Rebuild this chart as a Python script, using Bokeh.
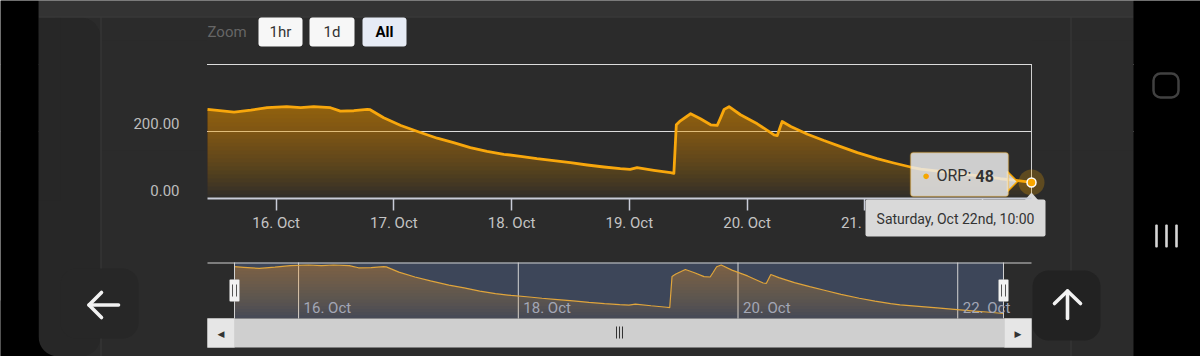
from datetime import datetime
import numpy as np
from bokeh.plotting import figure
from bokeh.models import (Range1d, DaysTicker, DatetimeTickFormatter, FixedTicker, LinearAxis,
                          NumeralTickFormatter, BoxAnnotation, Label)
from bokeh.embed import file_html
from bokeh.resources import INLINE
from bokeh.core.properties import value

# ---------------- data ----------------
times = [
    "2022-10-15 10:00", "2022-10-15 12:00", "2022-10-15 15:25", "2022-10-15 18:50", "2022-10-15 22:10",
    "2022-10-16 02:10", "2022-10-16 05:00", "2022-10-16 07:40", "2022-10-16 11:05", "2022-10-16 13:05",
    "2022-10-16 15:50", "2022-10-16 18:35", "2022-10-16 19:10", "2022-10-16 21:55",
    "2022-10-17 01:25", "2022-10-17 04:50", "2022-10-17 08:50", "2022-10-17 12:10", "2022-10-17 15:35",
    "2022-10-17 19:00", "2022-10-17 22:25",
    "2022-10-18 01:50", "2022-10-18 05:10", "2022-10-18 08:35", "2022-10-18 12:00", "2022-10-18 15:25",
    "2022-10-18 18:50", "2022-10-18 22:10",
    "2022-10-19 00:10", "2022-10-19 01:35", "2022-10-19 05:00", "2022-10-19 08:25", "2022-10-19 09:05",
    "2022-10-19 09:35", "2022-10-19 10:25", "2022-10-19 12:30", "2022-10-19 14:30", "2022-10-19 16:35",
    "2022-10-19 17:55", "2022-10-19 18:35", "2022-10-19 19:20", "2022-10-19 20:20", "2022-10-19 22:40",
    "2022-10-20 02:05", "2022-10-20 05:30", "2022-10-20 06:10", "2022-10-20 07:10", "2022-10-20 08:55",
    "2022-10-20 12:20", "2022-10-20 15:40", "2022-10-20 19:05", "2022-10-20 22:30",
    "2022-10-21 02:30", "2022-10-21 05:55", "2022-10-21 09:20", "2022-10-21 11:25", "2022-10-21 19:30",
    "2022-10-22 03:40", "2022-10-22 06:20", "2022-10-22 10:00",
]
orp = [266, 263, 258, 264, 271, 274, 271, 274, 271, 261, 262, 266, 265, 241,
       218, 200, 180, 167, 152, 141, 132,
       126, 119, 113, 107, 100, 94, 89,
       87, 92, 84, 77, 75, 220, 232, 253, 238, 220, 218, 240, 266, 274, 250,
       223, 190, 188, 230, 215, 192, 173, 155, 137,
       119, 106, 94, 88, 74, 59, 55, 48]
series_name = "ORP"
y_ticks = [0, 200]
y_grid = [200, 400]
nav_label_days = ["2022-10-16", "2022-10-18", "2022-10-20", "2022-10-22"]
nav_labels = ["16. Oct", "18. Oct", "20. Oct", "22. Oct"]
NAV_Y_MIN, NAV_Y_MAX = 24.7, 285.6          # navigator y-axis extremes
range_buttons = ["1hr", "1d", "All"]

# ---------------- geometry / helpers ----------------
t = [datetime.strptime(s, "%Y-%m-%d %H:%M") for s in times]
x = np.array(t, dtype="datetime64[ms]")
v = np.array(orp, dtype=float)
EPOCH = datetime(1970, 1, 1)
def ms(d):
    return (d - EPOCH).total_seconds() * 1000.0
t0, t1 = ms(t[0]), ms(t[-1])

W, H = 1200, 356
BG = "#2b2b2b"
ORANGE = "#f7a600"
FONT = "Roboto"

# main plot area in page pixels
PL, PR = 207, 1031
PY0, PY400 = 198, 64
spp = (t1 - t0) / (PR - PL)
upp = 400.0 / (PY0 - PY400)
x_rng = Range1d(t0 - PL * spp, t0 + (W - PL) * spp)
y_rng = Range1d(-(H - PY0) * upp, PY0 * upp)
lab_shift = 8 * upp

# navigator area in page pixels
NL, NR = 234, 1003
NT, NB = 262, 318
nspp = (t1 - t0) / (NR - NL)
nupp = (NAV_Y_MAX - NAV_Y_MIN) / (NB - NT)

p = figure(width=W, height=H, x_axis_type="datetime", x_axis_location="below", y_axis_location=None,
           x_range=x_rng, y_range=y_rng,
           min_border=0, min_border_left=0, min_border_right=0, min_border_top=0, min_border_bottom=0,
           background_fill_color=BG, border_fill_color=BG, outline_line_color=None,
           output_backend="svg", toolbar_location=None)
p.extra_x_ranges = {"px": Range1d(0, W),
                    "navx": Range1d(t0 - NL * nspp, t0 + (W - NL) * nspp)}
p.extra_y_ranges = {"px": Range1d(H, 0),
                    "ylab": Range1d(y_rng.start - lab_shift, y_rng.end - lab_shift),
                    "navy": Range1d(NAV_Y_MIN - (H - NB) * nupp, NAV_Y_MAX + NT * nupp)}

def box(l, r, tp, b, color, alpha=1.0, line=None, lw=1, radius=0, level="annotation"):
    p.add_layout(BoxAnnotation(left=l, right=r, top=tp, bottom=b, x_range_name="px", y_range_name="px",
                               fill_color=color, fill_alpha=alpha, line_color=line, line_width=lw,
                               border_radius=radius, level=level))

def label(xx, yy, text, size="15px", color="#333333", align="left", bold=False, font=FONT):
    p.add_layout(Label(x=xx, y=yy, x_range_name="px", y_range_name="px", text=text,
                       text_font=font, text_font_size=size, text_color=color, text_align=align,
                       text_baseline="middle", text_font_style="bold" if bold else "normal"))

def gradient_area(xs, vals, base, top, n, a0, a1, color, **kw):
    p.varea(x=xs, y1=np.full_like(vals, base), y2=vals, fill_color=color, fill_alpha=a0, **kw)
    a = 1 - ((1 - a1) / (1 - a0)) ** (1.0 / n)
    for k in range(1, n + 1):
        lvl = base + (top - base) * k / (n + 1)
        p.varea(x=xs, y1=np.minimum(vals, lvl), y2=vals, fill_color=color, fill_alpha=a, **kw)

# ---------------- main chart: grid & axes ----------------
p.xgrid.visible = False
p.ygrid.ticker = FixedTicker(ticks=y_grid)
p.ygrid.grid_line_color = "#dcdcdc"
p.ygrid.grid_line_width = 1

# page background pieces drawn under everything (underlay)
box(38, PL - 0.5, 40, 150, BG, level="underlay")          # hide grid left of plot
box(PR + 0.5, 1133, 40, 150, BG, level="underlay")        # hide grid right of plot
box(0, 60, 300, H, "#000000", level="underlay")
box(38, 100, 17, H, "#272727", radius=20, level="underlay")
box(38, 60, 17, 200, "#272727", level="underlay")
box(100, 101, 17, H, "#3a3a3a", level="underlay")
box(1070, 1071, 17, H, "#3a3a3a", level="underlay")
box(60, 138, 268, 338, "#272727", radius=16, level="underlay")
box(1032, 1100, 270, 340, "#222222", radius=16, level="underlay")

xa = p.xaxis[0]
xa.fixed_location = 0
xa.bounds = (t0, t1)
xa.ticker = DaysTicker(days=list(range(1, 32)))
xa.formatter = DatetimeTickFormatter(days="%d. %b")
xa.axis_line_color = "#c8ccd8"
xa.axis_line_width = 2
xa.major_tick_line_color = "#c8ccd8"
xa.major_tick_line_width = 1.5
xa.major_tick_out = 12
xa.major_tick_in = 0
xa.minor_tick_line_color = None
xa.major_label_standoff = 3
xa.major_label_text_color = "#c4c4c4"
xa.major_label_text_font = FONT
xa.major_label_text_font_size = "15px"

ya = LinearAxis(y_range_name="ylab", fixed_location=t0, ticker=FixedTicker(ticks=y_ticks),
                formatter=NumeralTickFormatter(format="0.00"))
ya.axis_line_color = None
ya.major_tick_line_color = None
ya.minor_tick_line_color = None
ya.major_label_standoff = 22
ya.major_label_text_color = "#bdbdbd"
ya.major_label_text_font = FONT
ya.major_label_text_font_size = "15px"
p.add_layout(ya, "left")

# ---------------- main chart: series ----------------
gradient_area(x, v, 0.0, float(v.max()), 22, 0.03, 0.5, ORANGE)
p.segment(x0=[x[-1]], y0=[0], x1=[x[-1]], y1=[y_grid[-1]], line_color="#cfcfcf", line_width=1)
p.line(x, v, line_color="#f8a70c", line_width=2.8, line_join="round")
p.scatter(x=[x[-1]], y=[v[-1]], size=26, fill_color=ORANGE, fill_alpha=0.25, line_color=None)
p.scatter(x=[x[-1]], y=[v[-1]], size=9, fill_color=ORANGE, line_color="#ffffff", line_width=1.5)

# ---------------- navigator ----------------
nav_days = np.array([datetime.strptime(s, "%Y-%m-%d") for s in nav_label_days], dtype="datetime64[ms]")
p.add_layout(BoxAnnotation(left=t0, right=t1, bottom=NAV_Y_MIN, top=NAV_Y_MAX,
                           x_range_name="navx", y_range_name="navy",
                           fill_color="#6685c2", fill_alpha=0.3, line_color=None, level="underlay"))
p.segment(x0=nav_days, y0=NAV_Y_MIN, x1=nav_days, y1=NAV_Y_MAX, x_range_name="navx", y_range_name="navy",
          line_color="#d4d4d4", line_width=1)
gradient_area(x, v, NAV_Y_MIN, float(v.max()), 16, 0.06, 0.35, "#f0a030",
              x_range_name="navx", y_range_name="navy")
p.line(x, v, line_color="#e0a53c", line_width=1.2, x_range_name="navx", y_range_name="navy")
p.segment(x0=[x[0], x[-1]], y0=NAV_Y_MIN, x1=[x[0], x[-1]], y1=NAV_Y_MAX,
          x_range_name="navx", y_range_name="navy", line_color="#d0d0d0", line_width=1)
p.text(x=nav_days, y=[307] * len(nav_days), text=nav_labels, x_offset=5,
       x_range_name="navx", y_range_name="px", text_font=value(FONT), text_font_size=value("15px"),
       text_color="#a3a7b6", text_baseline="middle")

# tooltip pointers (small triangles)
p.patch(x=[1007, 1017, 1007], y=[171, 181, 191], x_range_name="px", y_range_name="px",
        fill_color="#ebebeb", fill_alpha=0.85, line_color=ORANGE, line_width=1.5)
p.patch(x=[1024, 1031, 1038], y=[200, 192, 200], x_range_name="px", y_range_name="px",
        fill_color="#d9d9d9", line_color=None)

# floating button arrows (white icons)
p.multi_line(xs=[[88.5, 118], [101, 88.5, 101], [1067, 1067], [1054, 1067, 1080]],
             ys=[[304.5, 304.5], [292, 304.5, 317], [290.5, 318], [303, 290.5, 303]],
             x_range_name="px", y_range_name="px", line_color="#f2f2f2", line_width=3.6,
             line_cap="round", line_join="round")

# ---------------- phone / page chrome ----------------
box(38, 1133, 0, 16, "#333333")
box(38, 1133, 16, 17, "#3e3e3e")
box(0, 38, 0, H, "#000000")
box(1133, W, 0, H, "#000000")
box(1153, 1178, 73, 97, None, alpha=0, line="#d6d6d6", lw=2.5, radius=7)
for cx in (1156, 1166, 1176):
    box(cx - 1.3, cx + 1.3, 224, 247, "#d6d6d6", radius=1)

# range selector
label(207, 31, "Zoom", size="15px", color="#666666")
for (l, r), txt in zip([(258, 302), (309, 354), (362, 406)], range_buttons):
    sel = txt == "All"
    box(l, r, 17, 46, "#e6ebf5" if sel else "#f7f7f7", radius=3)
    label((l + r) / 2, 31.5, txt, size="15px", color="#000000" if sel else "#333333",
          align="center", bold=sel)

# navigator outline, handles, scrollbar
box(PL, PR, 262, 263, "#d0d0d0")
for hx in (NL, NR):
    box(hx - 5, hx + 5, 279, 301, "#f2f2f2", line="#999999", lw=1, radius=1)
    box(hx - 2.5, hx - 1.5, 284, 296, "#555555")
    box(hx + 1.5, hx + 2.5, 284, 296, "#555555")
box(PL, PR, 318, 347, "#cfcfcf")
box(PL, NL, 318, 347, "#e6e6e6", line="#c4c4c4")
box(NR + 1, PR, 318, 347, "#e6e6e6", line="#c4c4c4")
label(220.5, 333, "◀", size="9px", color="#333333", align="center", font="DejaVu Sans")
label(1017.5, 333, "▶", size="9px", color="#333333", align="center", font="DejaVu Sans")
for rx in (616, 619, 622):
    box(rx - 0.5, rx + 0.5, 326, 338, "#333333")

# ---------------- tooltips ----------------
box(910, 1008, 152, 196, "#ebebeb", alpha=0.85, line=ORANGE, lw=1.5, radius=3)
label(926, 175, "●", size="13px", color=ORANGE, align="center")
label(936, 175, f"{series_name}:", size="16px")
label(975, 175, f"{orp[-1]}", size="16px", bold=True)

def ordinal(n):
    return "th" if 11 <= n % 100 <= 13 else {1: "st", 2: "nd", 3: "rd"}.get(n % 10, "th")
date_text = f"{t[-1]:%A, %b} {t[-1].day}{ordinal(t[-1].day)}, {t[-1]:%H:%M}"
box(865, 1045, 199, 236, "#d9d9d9", radius=2)
label(955, 218, date_text, size="14px", align="center")

open("out.html", "w").write(file_html(p, INLINE))
